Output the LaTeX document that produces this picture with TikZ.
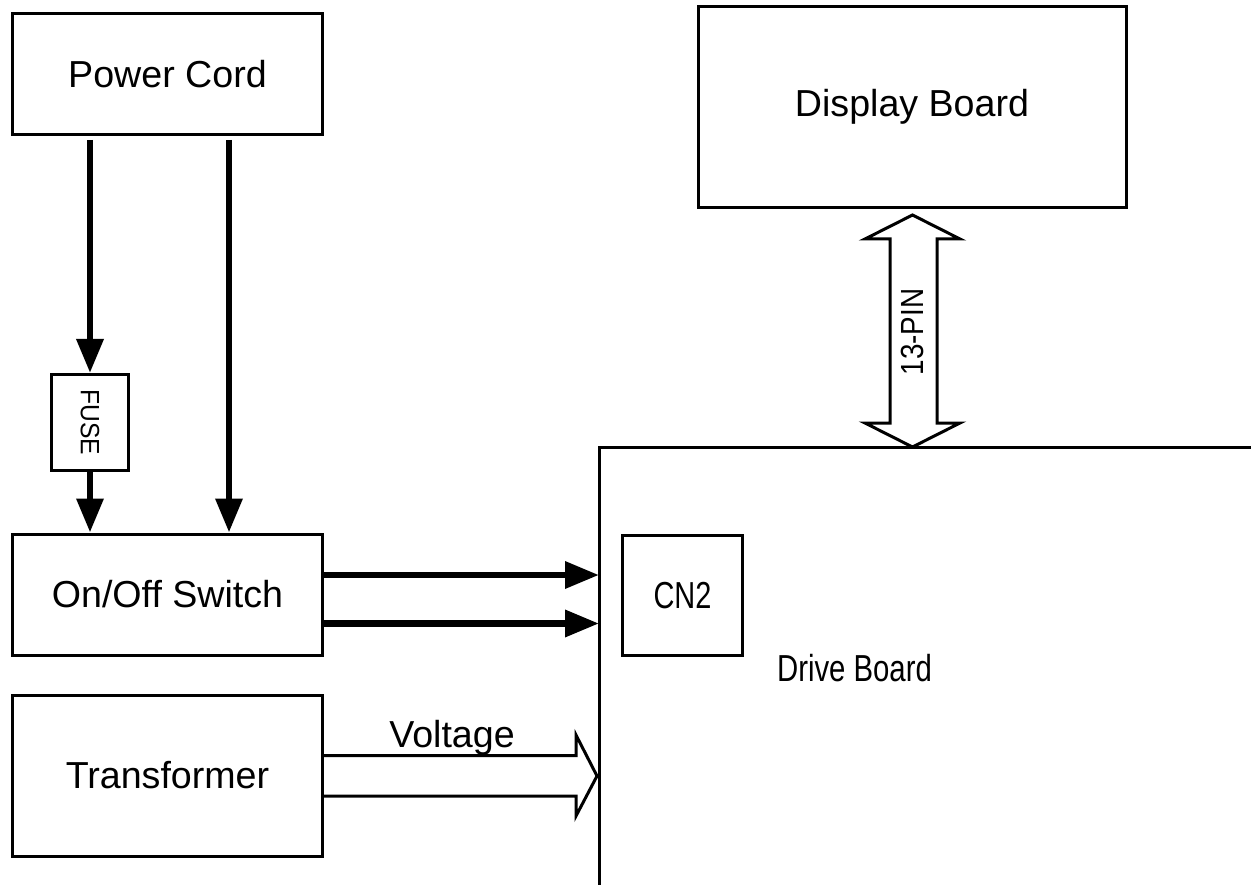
\documentclass[tikz,border=0pt]{standalone}
\usepackage{graphicx}
\usepackage{fontspec}
\setmainfont{Liberation Sans}
\usetikzlibrary{arrows.meta,calc}
\begin{document}
\begin{tikzpicture}[x=1pt,y=-1pt,
  box/.style={draw,line width=3pt,inner sep=0pt,align=center},
  big/.style={font=\fontsize{37.6}{42}\selectfont},
  thickarrow/.style={line width=6.5pt,-{Triangle[length=34pt,width=26pt]}},
  hollow/.style={draw,line width=3pt,line join=miter},
  board/.style={line width=3pt}]
\useasboundingbox (0,0) rectangle (1251,885);

% boxes
\node[box,big,minimum width=310pt,minimum height=121pt] (pc) at (167.5,74)
  {Power Cord};
\node[box,minimum width=77pt,minimum height=96pt] (fuse) at (90,422.5)
  {\rotatebox{-90}{\fontsize{26.5}{30}\selectfont\scalebox{0.93}[1]{FUSE}}};
\node[box,big,minimum width=310pt,minimum height=121pt] (oo) at (167.5,594.5)
  {On/Off Switch};
\node[box,big,minimum width=310pt,minimum height=161pt] (tr) at (167.5,775.5)
  {Transformer};
\node[box,big,minimum width=428pt,minimum height=201pt] (disp) at (912,107)
  {Display Board};
\node[box,minimum width=120pt,minimum height=120pt] (cn) at (682.5,595.5)
  {\fontsize{37.6}{42}\selectfont\scalebox{0.77}[1]{CN2}};
\node[anchor=base,inner sep=0pt] (dbl) at (854.5,681)
  {\fontsize{37.6}{42}\selectfont\scalebox{0.78}[1]{Drive Board}};

% drive board outline
\coordinate (dbbot) at (599,885);
\coordinate (dbcorner) at (599,447.5);
\coordinate (dbright) at (1251,447.5);
\draw[board] (dbbot) -- (dbcorner) -- (dbright);

% power cord arrows
\coordinate (pcl) at (90,140);
\coordinate (pcr) at (229,140);
\draw[thickarrow] (pcl) -- (fuse.north);
\draw[thickarrow] (fuse.south) -- (fuse.south |- oo.north);
\draw[thickarrow] (pcr) -- (pcr |- oo.north);

% on/off to drive board
\coordinate (ya) at (0,575);
\coordinate (yb) at (0,623.5);
\draw[thickarrow] (oo.east |- ya) -- (dbcorner |- ya);
\draw[thickarrow] (oo.east |- yb) -- (dbcorner |- yb);

% voltage hollow arrow
\coordinate (vtop) at (0,755.5);
\coordinate (vbot) at (0,796);
\draw[hollow] (tr.east |- vtop) -- (576,755.5) -- (576,735) -- (597,776)
  -- (576,816) -- (576,796) -- (tr.east |- vbot);
\node[anchor=base,inner sep=0pt] (volt) at (452,747)
  {\fontsize{37.6}{42}\selectfont Voltage};

% 13-PIN double hollow arrow
\coordinate (pinT) at (912.5,215);
\coordinate (pinB) at (912.5,447);
\draw[hollow] (pinT) -- ++(-47.5,24) -- ++(25,0) -- (890,423) -- ++(-25,0)
  -- (pinB) -- ++(47.5,-24) -- ++(-23,0) -- (937,239) -- ++(23,0) -- cycle;
\node[inner sep=0pt] (pin) at (912.5,332)
  {\rotatebox{90}{\fontsize{32}{36}\selectfont\scalebox{0.87}[1]{13-PIN}}};
\end{tikzpicture}
\end{document}
